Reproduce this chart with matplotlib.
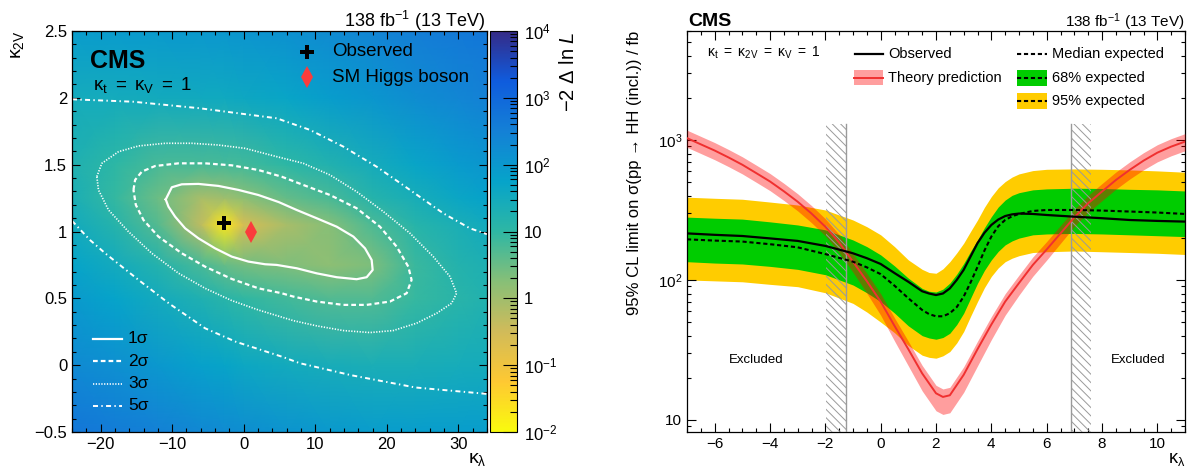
import numpy as np
import matplotlib
matplotlib.use("Agg")
import matplotlib.pyplot as plt
from matplotlib.colors import LinearSegmentedColormap, Normalize, LogNorm
from matplotlib.patches import Rectangle
from matplotlib.cm import ScalarMappable
import matplotlib.ticker as mt

plt.rcParams['font.family'] = ['Liberation Sans', 'DejaVu Sans']
plt.rcParams['mathtext.fontset'] = 'custom'
plt.rcParams['mathtext.rm'] = 'Liberation Sans'
plt.rcParams['mathtext.it'] = 'Liberation Sans:italic'
plt.rcParams['mathtext.bf'] = 'Liberation Sans:bold'
plt.rcParams['lines.scale_dashes'] = False
plt.rcParams['hatch.linewidth'] = 0.7
plt.rcParams['axes.unicode_minus'] = True

# ---------------- left panel data: -2 Delta lnL scan (log10 values) ----------------
kl_grid = [-24, -18, -12, -6, -2.7, 0, 6, 12, 18, 24, 30, 34]
k2v_grid = [-0.5, 0.0, 0.5, 0.75, 1.05, 1.25, 1.5, 2.0, 2.5]
log_nll = [
    [2.70, 2.60, 2.48, 2.34, 2.28, 2.20, 2.08, 1.98, 1.90, 1.88, 1.88, 1.89],
    [2.30, 2.18, 2.00, 1.81, 1.72, 1.62, 1.50, 1.42, 1.36, 1.38, 1.43, 1.46],
    [1.95, 1.74, 1.49, 1.26, 1.10, 0.98, 0.83, 0.70, 0.70, 0.93, 1.10, 1.23],
    [1.74, 1.49, 1.18, 0.78, 0.54, 0.41, 0.32, 0.18, 0.34, 0.90, 1.18, 1.30],
    [1.50, 1.15, 0.68, -0.30, -1.70, -0.60, -0.10, 0.25, 0.75, 1.12, 1.36, 1.52],
    [1.34, 0.95, 0.48, -0.10, 0.00, 0.18, 0.54, 0.77, 1.15, 1.41, 1.65, 1.78],
    [1.26, 1.02, 0.78, 0.77, 0.79, 0.83, 1.02, 1.23, 1.45, 1.70, 1.93, 2.04],
    [1.48, 1.48, 1.50, 1.53, 1.56, 1.60, 1.70, 1.88, 2.04, 2.23, 2.38, 2.48],
    [1.90, 1.93, 1.95, 2.00, 2.02, 2.06, 2.15, 2.28, 2.41, 2.54, 2.65, 2.72],
]

sig1_kl = [-10.9, -10.05, -8.66, -6.33, -3.54, -0.74, 2.05, 4.9, 7.4, 10.2, 12.99, 15.32,
           16.95, 17.88, 18.02, 17.18, 15.78, 12.99, 10.2, 7.4, 4.61, 2.98, 0.65, -1.67,
           -4.0, -6.33, -8.19, -9.59, -10.52]
sig1_k2v = [1.24, 1.331, 1.353, 1.356, 1.341, 1.311, 1.273, 1.22, 1.161, 1.099, 1.036, 0.962,
            0.874, 0.787, 0.712, 0.658, 0.643, 0.658, 0.687, 0.725, 0.750, 0.755, 0.775, 0.812,
            0.874, 0.949, 1.024, 1.111, 1.186]

sig2_kl = [-15.41, -15.18, -14.24, -12.38, -9.12, -5.4, -1.67, 2.05, 5.31, 8.33, 12.06, 15.78,
           19.04, 21.37, 23.0, 23.46, 22.77, 20.44, 17.18, 13.92, 10.2, 6.94, 5.31, 2.05,
           -1.67, -5.4, -8.66, -11.92, -14.01, -15.08]
sig2_k2v = [1.311, 1.386, 1.448, 1.49, 1.51, 1.51, 1.495, 1.46, 1.41, 1.348, 1.273, 1.174,
            1.036, 0.887, 0.737, 0.638, 0.538, 0.476, 0.451, 0.451, 0.476, 0.513, 0.538, 0.575,
            0.645, 0.737, 0.837, 0.962, 1.086, 1.199]

sig3_kl = [-20.53, -19.83, -17.5, -14.71, -10.98, -7.26, -3.54, 0.19, 4.61, 8.33, 12.06, 15.78,
           19.51, 23.23, 26.49, 28.82, 29.75, 29.05, 26.96, 24.16, 20.9, 17.64, 13.92, 10.2,
           6.94, 2.05, -1.67, -5.4, -9.12, -12.85, -16.11, -18.9, -20.3]
sig3_k2v = [1.411, 1.51, 1.597, 1.64, 1.66, 1.66, 1.647, 1.622, 1.56, 1.51, 1.423, 1.298,
            1.149, 0.987, 0.812, 0.663, 0.538, 0.463, 0.388, 0.314, 0.259, 0.244, 0.259, 0.294,
            0.333, 0.413, 0.483, 0.575, 0.688, 0.837, 0.999, 1.161, 1.311]

sig5up_kl = [-24.0, -15.46, -6.15, 4.61, 9.26, 13.92, 18.57, 23.23, 27.89, 31.61, 34.0]
sig5up_k2v = [1.989, 1.971, 1.922, 1.847, 1.76, 1.635, 1.485, 1.311, 1.136, 1.024, 0.98]
sig5lo_kl = [-24.0, -21.5, -19.36, -14.71, -10.4, -5.4, -1.1, 5.31, 7.82, 15.0, 24.0, 34.0]
sig5lo_k2v = [1.08, 0.937, 0.837, 0.638, 0.46, 0.276, 0.175, 0.064, 0.015, -0.075, -0.167, -0.215]

bestfit_kl, bestfit_k2v = -2.7, 1.06
sm_kl, sm_k2v = 1.0, 1.0

# ---------------- right panel data: limits vs kappa_lambda ----------------
kl_lim = [-7, -6, -5, -4, -3, -2, -1, -0.5, 0, 0.5, 1, 1.5, 1.75, 2, 2.25, 2.5, 2.75, 3, 3.25,
          3.5, 3.75, 4, 4.25, 4.5, 4.75, 5, 5.5, 6, 7, 8, 9, 10, 11]
obs_lim = [215, 210, 206, 198, 190, 175, 155, 143, 130, 112, 97, 83, 80, 78, 80, 87, 100, 118, 147,
           183, 217, 247, 270, 286, 294, 298, 296, 291, 283, 276, 268, 264, 261]
exp_lim = [195, 191, 188, 180, 171, 153, 135, 123, 110, 91, 74, 61, 57, 55, 55, 57.8, 64, 76, 96,
           124, 162, 204, 242, 268, 285, 296, 311, 316, 316, 313, 308, 303, 296]
exp_p1 = [281, 276, 272, 260, 247, 228, 193, 173, 151, 126, 103, 87, 83, 82, 86, 95, 110, 131, 160,
          193, 236, 283, 332, 372, 402, 420, 440, 447, 452, 450, 444, 440, 432]
exp_m1 = [135, 132, 130, 125, 119, 109, 92, 81, 70, 58, 47, 40, 38.5, 37.7, 38.8, 41.6, 48, 57.8, 74,
          94.6, 117, 139, 160, 178, 190, 199, 210, 213, 215, 213, 210, 207, 204]
exp_p2 = [390, 383, 377, 360, 343, 316, 268, 240, 210, 173, 139, 119, 113, 111.6, 120, 135, 156, 183,
          222, 268, 330, 394, 455, 504, 543, 572, 604, 617, 621, 617, 611, 601, 588]
exp_m2 = [100, 98.5, 97, 93, 89.5, 81, 68, 59, 50, 42, 34, 29, 28, 27.6, 28.7, 30.8, 35.5, 42.8, 55,
          70, 88, 106, 122, 135, 143, 149, 157, 159, 161, 159, 157, 155, 152]

kl_th = [-7, -6.5, -6, -5.5, -5, -4.5, -4, -3.5, -3, -2.5, -2, -1.5, -1, -0.5, 0, 0.5, 1, 1.5,
         2, 2.25, 2.5, 3, 3.5, 4, 4.5, 5, 5.5, 6, 6.5, 7, 7.5, 8, 8.5, 9, 9.5, 10, 10.5, 11]
th_xs = [1030, 930, 840, 750, 665, 580, 505, 430, 362, 298, 240, 185, 135, 98, 70, 47, 32, 21.5,
         15.5, 14.6, 15, 21, 32, 48, 70, 95, 128, 165, 215, 280, 353, 428, 517, 611, 711, 811, 896, 973]
th_unc_up = [0.14] * 38
th_unc_down = [0.14] * 11 + [0.15, 0.16, 0.18, 0.20, 0.22, 0.24, 0.25, 0.25, 0.25, 0.25, 0.25,
                             0.24, 0.22, 0.20, 0.18, 0.17, 0.16, 0.15] + [0.14] * 9

excl_edges = [-1.24, 6.87]
hatch_width = 0.73
hatch_top = 1300
excl_label_pos = [(-4.5, 27), (9.3, 27)]

# ---------------- figure ----------------
W, H = 1195, 476
fig = plt.figure(figsize=(W / 100, H / 100), dpi=100)

def fr(x0, y0, x1, y1):
    return [x0 / W, (H - y1) / H, (x1 - x0) / W, (y1 - y0) / H]

ax1 = fig.add_axes(fr(72, 31, 487, 432))
cax = fig.add_axes(fr(490, 31, 517, 432))
ax2 = fig.add_axes(fr(687, 31, 1185, 432))

# kBird palette (reversed: yellow low, dark blue high)
stops = [0.0, 0.125, 0.25, 0.375, 0.5, 0.625, 0.75, 0.875, 1.0]
red = [0.2082, 0.0592, 0.0780, 0.0232, 0.1802, 0.5301, 0.8186, 0.9956, 0.9764]
green = [0.1664, 0.3599, 0.5041, 0.6419, 0.7178, 0.7492, 0.7328, 0.7862, 0.9832]
blue = [0.5293, 0.8684, 0.8385, 0.7914, 0.6425, 0.4662, 0.3499, 0.1968, 0.0539]
cols = [(1 - s, (r, g, b)) for s, r, g, b in zip(stops, red, green, blue)][::-1]
cmap = LinearSegmentedColormap.from_list('bird_r', cols, N=512)

X, Y = np.meshgrid(kl_grid, k2v_grid)
ax1.pcolormesh(X, Y, np.array(log_nll), shading='gouraud', cmap=cmap,
               norm=Normalize(-2, 4), rasterized=True)

def closed(a):
    return list(a) + [a[0]]

ax1.plot(closed(sig1_kl), closed(sig1_k2v), color='white', lw=1.6)
ax1.plot(closed(sig2_kl), closed(sig2_k2v), color='white', lw=1.6, dashes=(3.4, 2.2))
ax1.plot(closed(sig3_kl), closed(sig3_k2v), color='white', lw=1.2, dashes=(0.9, 1.1))
for xs, ys in [(sig5up_kl, sig5up_k2v), (sig5lo_kl, sig5lo_k2v)]:
    ax1.plot(xs, ys, color='white', lw=1.4, dashes=(3.6, 2.4, 1.0, 2.4))

ax1.plot([bestfit_kl], [bestfit_k2v], marker='P', color='black', ms=10, mew=0, ls='none')
ax1.plot([sm_kl], [sm_k2v], marker='d', color='#fa3c3c', ms=11, mew=0, ls='none')

ax1.set_xlim(-24, 34)
ax1.set_ylim(-0.5, 2.5)
ax1.xaxis.set_major_locator(mt.MultipleLocator(10))
ax1.xaxis.set_minor_locator(mt.MultipleLocator(2))
ax1.yaxis.set_major_locator(mt.MultipleLocator(0.5))
ax1.yaxis.set_minor_locator(mt.MultipleLocator(0.1))
fmt = mt.FuncFormatter(lambda v, p: ('%g' % v).replace('-', '\u2212'))
ax1.xaxis.set_major_formatter(fmt)
ax1.yaxis.set_major_formatter(fmt)
ax1.tick_params(which='both', direction='in', top=True, right=True, labelsize=12, pad=3.5, width=0.8)
ax1.tick_params(which='major', length=6)
ax1.tick_params(which='minor', length=3)

t1 = ax1.transAxes
ax1.text(0.043, 0.908, 'CMS', transform=t1, fontsize=18, fontweight='bold', va='baseline')
ax1.text(0.05, 0.853, r'$\mathregular{κ_{t}\ =\ κ_{V}\ =\ 1}$', transform=t1, fontsize=13.5, va='baseline')
ax1.plot([0.566], [0.948], marker='P', color='black', ms=10, mew=0, transform=t1, clip_on=False)
ax1.plot([0.566], [0.885], marker='d', color='#fa3c3c', ms=11, mew=0, transform=t1, clip_on=False)
ax1.text(0.627, 0.948, 'Observed', transform=t1, fontsize=13.5, va='center')
ax1.text(0.627, 0.885, 'SM Higgs boson', transform=t1, fontsize=13.5, va='center')
ax1.text(0.995, 1.011, r'138 fb$^{\mathregular{-1}}$ (13 TeV)', transform=t1, fontsize=13,
         ha='right', va='baseline')

leg_y = [0.232, 0.177, 0.120, 0.065]
leg_lab = ['1σ', '2σ', '3σ', '5σ']
leg_sty = [dict(lw=1.6), dict(lw=1.6, dashes=(3.4, 2.2)), dict(lw=1.2, dashes=(0.9, 1.1)),
           dict(lw=1.4, dashes=(3.6, 2.4, 1.0, 2.4))]
for yy, lab, st in zip(leg_y, leg_lab, leg_sty):
    ax1.plot([0.0506, 0.1205], [yy, yy], color='white', transform=t1, **st)
    ax1.text(0.135, yy, lab, transform=t1, fontsize=12.5, va='center')

# colour bar
sm = ScalarMappable(norm=LogNorm(1e-2, 1e4), cmap=cmap)
cb = fig.colorbar(sm, cax=cax)
cb.outline.set_linewidth(0.8)
cax.yaxis.set_ticks_position('right')
cb.set_ticks([1e-2, 1e-1, 1, 10, 1e2, 1e3, 1e4])
cb.set_ticklabels([r'$\mathregular{10^{-2}}$', r'$\mathregular{10^{-1}}$', '1', '10',
                   r'$\mathregular{10^{2}}$', r'$\mathregular{10^{3}}$', r'$\mathregular{10^{4}}$'])
cax.yaxis.set_minor_locator(mt.LogLocator(base=10, subs=np.arange(2, 10)))
cax.yaxis.set_minor_formatter(mt.NullFormatter())
cax.tick_params(which='both', direction='in', labelsize=12, pad=5, width=0.8)
cax.tick_params(which='major', length=10)
cax.tick_params(which='minor', length=5)
fig.text(568 / W, (H - 31) / H, '$\\mathregular{\u22122\\ Δ\\ ln}\\ \\mathit{L}$',
         rotation=90, ha='center', va='top', fontsize=14.5)

fig.text(18 / W, (H - 30) / H, r'$\mathregular{κ_{2V}}$', rotation=90, ha='center', va='top', fontsize=14)
fig.text(487 / W, (H - 451) / H, r'$\mathregular{κ_{λ}}$', ha='right', va='top', fontsize=14)

# ---------------- right panel ----------------
ax2.set_yscale('log')
ax2.fill_between(kl_lim, exp_m2, exp_p2, color='#ffcc00', lw=0, zorder=1)
ax2.fill_between(kl_lim, exp_m1, exp_p1, color='#00cc00', lw=0, zorder=2)
th = np.array(th_xs)
ax2.fill_between(kl_th, th * (1 - np.array(th_unc_down)), th * (1 + np.array(th_unc_up)),
                 color='#ff0000', alpha=0.38, lw=0, zorder=3)
ymin, ymax = 8.2, 6000
for edge, sgn in zip(excl_edges, [-1, 1]):
    x0 = edge if sgn > 0 else edge - hatch_width
    ax2.add_patch(Rectangle((x0, ymin), hatch_width, hatch_top - ymin, facecolor='none',
                            edgecolor='#9a9a9a', hatch='\\\\\\\\', lw=0, zorder=4))
    ax2.plot([edge, edge], [ymin, hatch_top], color='#9a9a9a', lw=1.0, zorder=4)
ax2.plot(kl_th, th_xs, color='#f03030', lw=1.4, zorder=5)
ax2.plot(kl_lim, exp_lim, color='black', lw=1.5, dashes=(3.0, 2.0), zorder=6)
ax2.plot(kl_lim, obs_lim, color='black', lw=1.6, zorder=7)
for (xx, yy) in excl_label_pos:
    ax2.text(xx, yy, 'Excluded', fontsize=9.5, ha='center', va='center')

ax2.set_xlim(-7, 11)
ax2.set_ylim(ymin, ymax)
ax2.xaxis.set_major_locator(mt.MultipleLocator(2))
ax2.xaxis.set_minor_locator(mt.MultipleLocator(0.5))
ax2.xaxis.set_major_formatter(fmt)
ax2.yaxis.set_major_locator(mt.FixedLocator([10, 100, 1000]))
ax2.yaxis.set_major_formatter(mt.FixedFormatter(['10', r'$\mathregular{10^{2}}$', r'$\mathregular{10^{3}}$']))
ax2.yaxis.set_minor_locator(mt.LogLocator(base=10, subs=np.arange(2, 10)))
ax2.yaxis.set_minor_formatter(mt.NullFormatter())
ax2.tick_params(which='both', direction='in', top=True, right=True, labelsize=11, pad=3.5, width=0.8)
ax2.tick_params(which='major', length=6.5)
ax2.tick_params(which='minor', length=3)

t2 = ax2.transAxes
ax2.text(0.002, 1.0125, 'CMS', transform=t2, fontsize=14, fontweight='bold', va='baseline')
ax2.text(1.0, 1.011, r'138 fb$^{\mathregular{-1}}$ (13 TeV)', transform=t2, fontsize=11,
         ha='right', va='baseline')
ax2.text(0.04, 0.945, r'$\mathregular{κ_{t}\ =\ κ_{2V}\ =\ κ_{V}\ =\ 1}$', transform=t2,
         fontsize=10, va='center')
# legend
ax2.plot([0.337, 0.394], [0.943, 0.943], color='black', lw=1.6, transform=t2)
ax2.text(0.404, 0.943, 'Observed', transform=t2, fontsize=10.5, va='center')
ax2.add_patch(Rectangle((0.335, 0.865), 0.059, 0.038, transform=t2, facecolor='#ff0000',
                        alpha=0.38, lw=0))
ax2.plot([0.335, 0.394], [0.884, 0.884], color='#f03030', lw=1.4, transform=t2)
ax2.text(0.404, 0.884, 'Theory prediction', transform=t2, fontsize=10.5, va='center')
ax2.plot([0.663, 0.723], [0.943, 0.943], color='black', lw=1.5, dashes=(3.0, 2.0), transform=t2)
ax2.text(0.733, 0.943, 'Median expected', transform=t2, fontsize=10.5, va='center')
for yc, colr, lab in [(0.883, '#00cc00', '68% expected'), (0.825, '#ffcc00', '95% expected')]:
    ax2.add_patch(Rectangle((0.663, yc - 0.02), 0.06, 0.04, transform=t2, facecolor=colr, lw=0))
    ax2.plot([0.663, 0.723], [yc, yc], color='black', lw=1.5, dashes=(3.0, 2.0), transform=t2)
    ax2.text(0.733, yc, lab, transform=t2, fontsize=10.5, va='center')

fig.text(635 / W, (H - 31) / H, '95% CL limit on σ(pp → HH (incl.)) / fb', rotation=90,
         ha='center', va='top', fontsize=12)
fig.text(1185 / W, (H - 451) / H, r'$\mathregular{κ_{λ}}$', ha='right', va='top', fontsize=13)

for a in (ax1, ax2):
    for s in a.spines.values():
        s.set_linewidth(0.9)

fig.savefig('out.png', dpi=100)
